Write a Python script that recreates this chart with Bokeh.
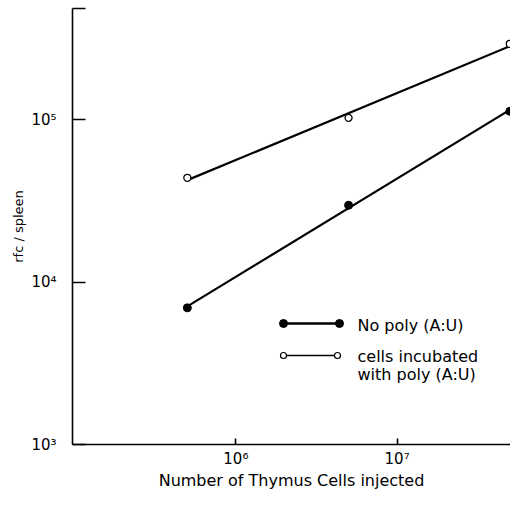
import numpy as np
from bokeh.plotting import figure
from bokeh.models import FixedTicker, Range1d
from bokeh.core.properties import value
from bokeh.embed import file_html
from bokeh.resources import INLINE

# ---- data ----
cells = [5e5, 5e6, 5e7]
no_poly = [6.95e3, 2.98e4, 1.13e5]
with_poly = [4.4e4, 1.03e5, 2.94e5]

x_ticks = [1e6, 1e7]
x_tick_labels = ["10\u2076", "10\u2077"]
y_ticks = [1e3, 1e4, 1e5, 4.86e5]
y_tick_labels = ["10\u00b3", "10\u2074", "10\u2075", ""]

legend_labels = ["No poly (A:U)", "cells incubated", "with poly (A:U)"]

FONT = "DejaVu Sans"

# ---- layout ----
X0, X1 = 9.7e4, 5.05e7
Y0, Y1 = 1e3, 4.86e5
BL, BT, BB = 72, 8, 48
W, H = 510, 492
FW, FH = W - BL, H - BT - BB   # frame size in px

p = figure(width=W, height=H, x_axis_type="log", y_axis_type="log",
           x_range=Range1d(X0, X1), y_range=Range1d(Y0, Y1),
           output_backend="svg", toolbar_location=None,
           min_border_left=BL, min_border_right=0, min_border_top=BT,
           min_border_bottom=BB)
p.outline_line_color = None
p.xgrid.visible = False
p.ygrid.visible = False
p.background_fill_color = "white"
p.border_fill_color = "white"

for ax in (p.xaxis[0], p.yaxis[0]):
    ax.axis_line_color = "black"
    ax.axis_line_width = 1.6
    ax.major_tick_line_color = "black"
    ax.major_tick_line_width = 1.6
    ax.minor_tick_line_color = None
    ax.major_tick_out = 0
    ax.major_label_text_font = FONT
    ax.major_label_text_font_size = "15px"
    ax.major_label_text_color = "black"
    ax.axis_label_text_font = FONT
    ax.axis_label_text_font_style = "normal"
    ax.axis_label_text_color = "black"

p.xaxis.ticker = FixedTicker(ticks=x_ticks)
p.xaxis.major_label_overrides = {t: l for t, l in zip(x_ticks, x_tick_labels)}
p.xaxis.major_tick_in = 6
p.xaxis.major_label_standoff = 5
p.xaxis.axis_label = "Number of Thymus Cells injected"
p.xaxis.axis_label_text_font_size = "16px"
p.xaxis.axis_label_standoff = 0

p.yaxis.ticker = FixedTicker(ticks=y_ticks)
p.yaxis.major_label_overrides = {t: l for t, l in zip(y_ticks, y_tick_labels)}
p.yaxis.major_tick_in = 13
p.yaxis.major_label_standoff = 16
p.yaxis.axis_label = "rfc / spleen"
p.yaxis.axis_label_text_font_size = "13px"
p.yaxis.axis_label_standoff = 2

# ---- fitted lines (log-log least squares) ----
lx = np.log10(cells)
xfit = np.array([cells[0], cells[-1]])
for ys in (no_poly, with_poly):
    k, b = np.polyfit(lx, np.log10(ys), 1)
    p.line(xfit, 10 ** (k * np.log10(xfit) + b), line_color="black", line_width=2.2)

p.scatter(cells, no_poly, size=8, fill_color="black", line_color="black")
p.scatter(cells, with_poly, size=7, fill_color="white", line_color="black",
          line_width=1.3)

# ---- legend drawn inside the frame (positions in frame px) ----
def px(xp, yp):
    lx0, lx1 = np.log10(X0), np.log10(X1)
    ly0, ly1 = np.log10(Y0), np.log10(Y1)
    return (10 ** (lx0 + xp / FW * (lx1 - lx0)),
            10 ** (ly1 - yp / FH * (ly1 - ly0)))

a, b_ = px(211, 315), px(267, 315)
p.line([a[0], b_[0]], [a[1], b_[1]], line_color="black", line_width=2.5)
p.scatter([a[0], b_[0]], [a[1], b_[1]], size=8, fill_color="black", line_color="black")
c, d = px(211, 347), px(265, 347)
p.line([c[0], d[0]], [c[1], d[1]], line_color="black", line_width=1.6)
p.scatter([c[0], d[0]], [c[1], d[1]], size=6, fill_color="white", line_color="black",
          line_width=1.2)

tpos = [px(285, 317), px(285, 348), px(285, 366)]
p.text([t[0] for t in tpos], [t[1] for t in tpos], text=legend_labels,
       text_font=value(FONT), text_font_size="16px", text_color="black",
       text_baseline="middle", text_align="left")

open("out.html", "w").write(file_html(p, INLINE))
